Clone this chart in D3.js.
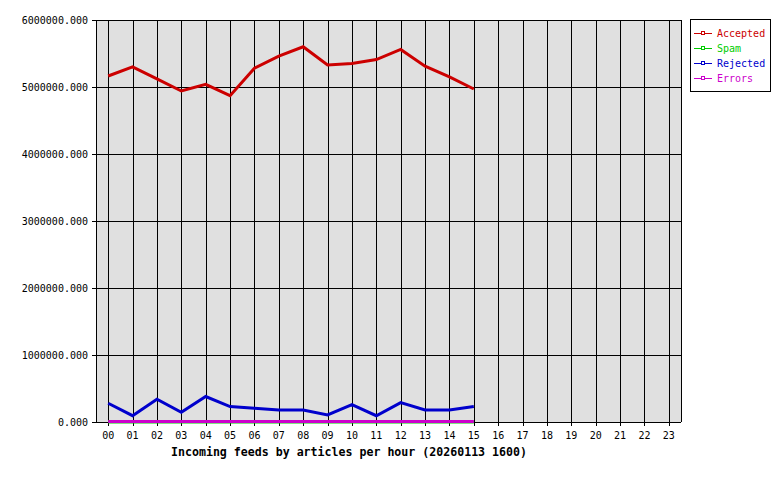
<!DOCTYPE html>
<html>
<head>
  <meta charset="utf-8">
  <title>Incoming feeds by articles per hour</title>
  <style>
    html, body { margin: 0; padding: 0; background: #fff; }
    text { font-family: "DejaVu Sans Mono", "Liberation Mono", monospace; font-size: 10px; }
    .title { font-weight: bold; font-size: 11.6px; }
  </style>
</head>
<body>
  <svg id="chart" width="780" height="480"></svg>
  <script src="https://d3js.org/d3.v7.min.js"></script>
  <script>
    // Hours along the x axis
    const hours = ["00","01","02","03","04","05","06","07","08","09","10","11",
                   "12","13","14","15","16","17","18","19","20","21","22","23"];

    // Series values (articles), hours 00..15 only
    const accepted = [5164000, 5300000, 5120000, 4940000, 5040000, 4870000, 5280000, 5460000,
                      5600000, 5330000, 5350000, 5410000, 5560000, 5310000, 5150000, 4970000];
    const spam     = [0, 0, 0, 0, 0, 0, 0, 0, 0, 0, 0, 0, 0, 0, 0, 0];
    const rejected = [280000, 94000, 340000, 145000, 380000, 230000, 205000, 180000,
                      180000, 105000, 260000, 94000, 290000, 180000, 180000, 230000];
    const errors   = [8000, 8000, 8000, 8000, 8000, 8000, 8000, 8000,
                      8000, 8000, 8000, 8000, 8000, 8000, 8000, 8000];

    const yTicks = [0, 1000000, 2000000, 3000000, 4000000, 5000000, 6000000];

    const seriesNames  = ["Accepted", "Spam", "Rejected", "Errors"];
    const seriesColors = ["#cc0000", "#00cc00", "#0000cc", "#cc00cc"];
    const seriesValues = [accepted, spam, rejected, errors];

    const plot = {left: 96, right: 681, top: 20, bottom: 422};
    const svg = d3.select("#chart");

    const x = d3.scalePoint().domain(hours).range([plot.left, plot.right]).padding(0.5);
    const y = d3.scaleLinear().domain([0, 6000000]).range([plot.bottom, plot.top]);

    // plot background
    svg.append("rect")
      .attr("x", plot.left).attr("y", plot.top)
      .attr("width", plot.right - plot.left).attr("height", plot.bottom - plot.top)
      .attr("fill", "#e0e0e0");

    // grid lines
    svg.append("g").selectAll("line").data(hours).join("line")
      .attr("x1", d => Math.round(x(d)) + 0.5).attr("x2", d => Math.round(x(d)) + 0.5)
      .attr("y1", plot.top).attr("y2", plot.bottom + 4)
      .attr("stroke", "#000");
    svg.append("g").selectAll("line").data(yTicks).join("line")
      .attr("x1", plot.left - 4).attr("x2", plot.right)
      .attr("y1", d => Math.round(y(d)) + 0.5).attr("y2", d => Math.round(y(d)) + 0.5)
      .attr("stroke", "#000");

    // frame
    svg.append("line").attr("x1", plot.left + 0.5).attr("x2", plot.left + 0.5)
      .attr("y1", plot.top).attr("y2", plot.bottom).attr("stroke", "#000");
    svg.append("line").attr("x1", plot.right + 0.5).attr("x2", plot.right + 0.5)
      .attr("y1", plot.top).attr("y2", plot.bottom).attr("stroke", "#000");

    // y labels
    svg.append("g").selectAll("text").data(yTicks).join("text")
      .attr("x", plot.left - 8).attr("y", d => y(d) + 4)
      .attr("text-anchor", "end")
      .text(d => d3.format(".3f")(d));

    // x labels
    svg.append("g").selectAll("text").data(hours).join("text")
      .attr("x", d => x(d)).attr("y", 439)
      .attr("text-anchor", "middle")
      .text(d => d);

    svg.append("text").attr("class", "title")
      .attr("x", 349).attr("y", 456).attr("text-anchor", "middle")
      .text("Incoming feeds by articles per hour (20260113 1600)");

    // series lines
    const line = d3.line().x((d, i) => x(hours[i])).y(d => y(d));
    seriesValues.forEach((vals, k) => {
      svg.append("path").datum(vals)
        .attr("d", line)
        .attr("fill", "none")
        .attr("stroke", seriesColors[k])
        .attr("stroke-width", 3);
    });

    // legend
    const lg = svg.append("g");
    lg.append("rect").attr("x", 690.5).attr("y", 19.5).attr("width", 80).attr("height", 72)
      .attr("fill", "#fff").attr("stroke", "#000");
    seriesNames.forEach((name, k) => {
      const yy = 33 + k * 15;
      lg.append("line").attr("x1", 694).attr("x2", 712).attr("y1", yy + 0.5).attr("y2", yy + 0.5)
        .attr("stroke", seriesColors[k]);
      lg.append("rect").attr("x", 701.5).attr("y", yy - 1.5).attr("width", 3).attr("height", 3)
        .attr("fill", "#fff").attr("stroke", seriesColors[k]);
      lg.append("text").attr("x", 717).attr("y", yy + 4)
        .attr("fill", seriesColors[k]).text(name);
    });
  </script>
</body>
</html>
